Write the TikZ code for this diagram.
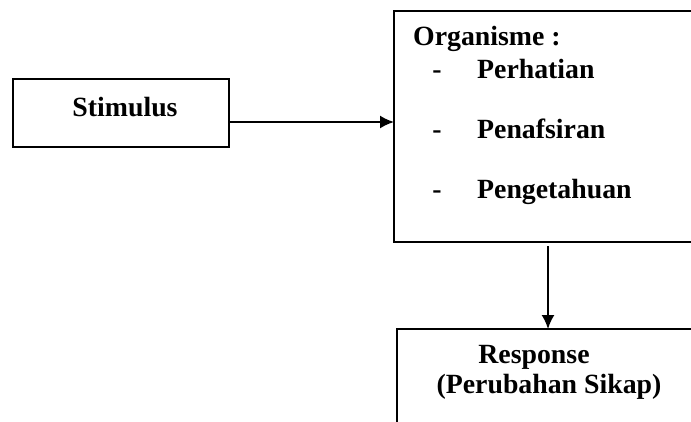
\documentclass[tikz,border=0pt]{standalone}
\usepackage{fontspec}
\setmainfont{Liberation Serif}
\usetikzlibrary{arrows.meta}
\begin{document}
\begin{tikzpicture}[x=1pt,y=-1pt,
  box/.style={draw,line width=2pt,inner sep=0pt,outer sep=0pt},
  lbl/.style={font=\fontsize{27.8}{30}\selectfont\bfseries,inner sep=0pt},
  arr/.style={line width=1.8pt,-{Latex[length=14pt,width=13pt]}}]
\useasboundingbox (0,0) rectangle (691,421);
\clip (0,0) rectangle (691,421);
\node[box,anchor=north west,minimum width=216pt,minimum height=68pt] (stim) at (13,79) {};
\node[box,anchor=north west,minimum width=340pt,minimum height=231pt] (org) at (394,11) {};
\node[box,anchor=north west,minimum width=330pt,minimum height=150pt] (resp) at (397,329) {};
\node[lbl,anchor=base] (stimt) at (125,116) {Stimulus};
\node[lbl,anchor=base west] (orgt) at (413,45) {Organisme :};
\node[lbl,anchor=base] (d1) at (437,78) {-};
\node[lbl,anchor=base] (d2) at (437,138) {-};
\node[lbl,anchor=base] (d3) at (437,198) {-};
\node[lbl,anchor=base west] (i1) at (477,78) {Perhatian};
\node[lbl,anchor=base west] (i2) at (477,138) {Penafsiran};
\node[lbl,anchor=base west] (i3) at (477,198) {Pengetahuan};
\node[lbl,anchor=base] (r1) at (534,363) {Response};
\node[lbl,anchor=base] (r2) at (549,393) {(Perubahan Sikap)};
\coordinate (s0) at ([yshift=-9pt]stim.east);
\draw[arr] (s0) -- (s0 -| org.west);
\coordinate (d0) at (548,246);
\draw[arr] (d0) -- (d0 |- resp.north);
\end{tikzpicture}
\end{document}
